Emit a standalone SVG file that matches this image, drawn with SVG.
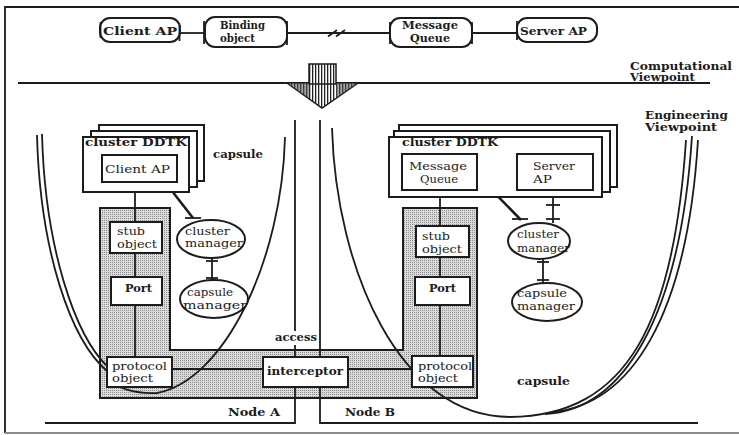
<svg xmlns="http://www.w3.org/2000/svg" width="739" height="435" viewBox="0 0 739 435">
  <defs>
    <!-- fine stipple for the shared protocol area -->
    <pattern id="stipple" width="2" height="2" patternUnits="userSpaceOnUse">
      <rect width="2" height="2" fill="#dadada"/>
      <rect width="1" height="1" fill="#8e8e8e"/>
    </pattern>
    <!-- vertical hatching for the refinement arrow -->
    <pattern id="stripes" width="3" height="3" patternUnits="userSpaceOnUse">
      <rect width="3" height="3" fill="#fff"/>
      <rect width="1.3" height="3" fill="#222"/>
    </pattern>
    <style>
      .ln { fill: none; stroke: #1c1c1c; stroke-width: 1.8; }
      .thick { fill: none; stroke: #1c1c1c; stroke-width: 2.6; }
      .box { fill: #fff; stroke: #1c1c1c; stroke-width: 2; }
      .rbox { fill: #fff; stroke: #1c1c1c; stroke-width: 2; }
      .ell { fill: #fff; stroke: #1c1c1c; stroke-width: 2; }
      .t { font-family: "DejaVu Serif", "Liberation Serif", serif; font-size: 11.5px; fill: #1c1c1c; }
      .s { font-size: 10.3px; }
      .b { font-weight: bold; }
    </style>
  </defs>

  <rect width="739" height="435" fill="#fff"/>

  <!-- outer frame -->
  <path d="M739,7 H5 V433" class="ln" stroke-width="2"/>
  <line x1="5" y1="433" x2="739" y2="433" stroke="#8a8a8a" stroke-width="2"/>

  <!-- viewpoint separator -->
  <line x1="18" y1="83" x2="710" y2="83" class="ln" stroke-width="2.4"/>
  <text class="t s b" x="630" y="69.5" textLength="102" lengthAdjust="spacingAndGlyphs">Computational</text>
  <text class="t s b" x="630" y="81" textLength="65" lengthAdjust="spacingAndGlyphs">Viewpoint</text>
  <text class="t s b" x="645" y="119" textLength="83" lengthAdjust="spacingAndGlyphs">Engineering</text>
  <text class="t s b" x="645" y="131" textLength="72" lengthAdjust="spacingAndGlyphs">Viewpoint</text>

  <!-- refinement arrow -->
  <g id="refine-arrow">
    <polygon points="287,83 358,83 322,108" fill="url(#stripes)" stroke="#1c1c1c" stroke-width="1.5"/>
    <polygon points="288,83.5 309,83.5 309,98" fill="#555" opacity="0.55"/>
    <polygon points="336,83.5 357,83.5 336,98" fill="#555" opacity="0.55"/>
    <rect x="309" y="64" width="27" height="20" fill="url(#stripes)" stroke="#1c1c1c" stroke-width="1.5"/>
  </g>

  <!-- computational viewpoint connectors -->
  <g id="comp-connectors">
    <line x1="180" y1="33" x2="204" y2="33" class="ln"/>
    <line x1="287" y1="33" x2="390" y2="33" class="ln"/>
    <line x1="472" y1="33" x2="517" y2="33" class="ln"/>
    <line x1="328" y1="36.5" x2="337" y2="30" class="ln" stroke-width="1.6"/>
    <line x1="336" y1="36.5" x2="345" y2="30" class="ln" stroke-width="1.6"/>
  </g>

  <g id="comp-client-ap">
    <rect class="rbox" x="100" y="18" width="80" height="24" rx="10"/>
    <line x1="100.5" y1="22" x2="100.5" y2="38" class="ln" stroke-width="2"/>
    <line x1="179.5" y1="25" x2="179.5" y2="41" class="ln" stroke-width="1.5"/>
    <text class="t b" x="103" y="35" font-size="12.5" textLength="74" lengthAdjust="spacingAndGlyphs">Client AP</text>
  </g>
  <g id="comp-binding-object">
    <rect class="rbox" x="205" y="17" width="82" height="30" rx="10"/>
    <line x1="204" y1="21" x2="204" y2="44" class="ln" stroke-width="2"/>
    <line x1="287" y1="21" x2="287" y2="45" class="ln" stroke-width="2"/>
    <text class="t b" x="220" y="29" font-size="10" textLength="45" lengthAdjust="spacingAndGlyphs">Binding</text>
    <text class="t b" x="220" y="42" font-size="10" textLength="35" lengthAdjust="spacingAndGlyphs">object</text>
  </g>
  <g id="comp-message-queue">
    <rect class="rbox" x="390" y="18" width="82" height="29" rx="10"/>
    <line x1="390" y1="22" x2="390" y2="44" class="ln" stroke-width="2"/>
    <line x1="472" y1="22" x2="472" y2="44" class="ln" stroke-width="2"/>
    <text class="t b" x="402" y="28.5" font-size="9.6" textLength="56" lengthAdjust="spacingAndGlyphs">Message</text>
    <text class="t b" x="410" y="41.5" font-size="9.6" textLength="40" lengthAdjust="spacingAndGlyphs">Queue</text>
  </g>
  <g id="comp-server-ap">
    <rect class="rbox" x="517" y="18" width="80" height="24" rx="10"/>
    <line x1="517" y1="21" x2="517" y2="40" class="ln" stroke-width="2"/>
    <text class="t b" x="520" y="35" font-size="12.5" textLength="67" lengthAdjust="spacingAndGlyphs">Server AP</text>
  </g>

  <!-- shared stippled area: two node columns joined by the channel band -->
  <path id="channel-area" d="M100,208 H170 V350 H403 V208 H477 V398 H100 Z" fill="url(#stipple)" stroke="#1c1c1c" stroke-width="2"/>

  <!-- node boundaries -->
  <g id="node-boundaries">
    <path d="M295,120 V331 M295,345 V423 H45" class="ln" stroke-width="2"/>
    <path d="M320,120 V423 H698" class="ln" stroke-width="2"/>
    <text class="t b" x="228" y="416" textLength="52" lengthAdjust="spacingAndGlyphs">Node A</text>
    <text class="t b" x="345" y="416" textLength="50" lengthAdjust="spacingAndGlyphs">Node B</text>
    <text class="t b" x="275" y="341" textLength="42" lengthAdjust="spacingAndGlyphs">access</text>
  </g>

  <!-- capsule outlines -->
  <g id="capsule-a">
    <path d="M37,135 C40,250 70,340 108,372" class="ln" stroke-width="1.6"/>
    <path d="M42,134 C45,248 75,336 108,367" class="ln" stroke-width="1.6"/>
    <path d="M108,378 C115,388 135,394 157,393 C225,380 282,260 285,137" class="ln" stroke-width="1.6"/>
    <text class="t b" x="213" y="158" textLength="50" lengthAdjust="spacingAndGlyphs">capsule</text>
  </g>
  <g id="capsule-b">
    <path d="M332,128 C336,270 400,417 510,417 C628,416 674,322 686,140" class="ln" stroke-width="1.6"/>
    <path d="M545,414 C622,410 680,320 692,136" class="ln" stroke-width="1.6"/>
    <path d="M552,412 C630,405 687,318 698,140" class="ln" stroke-width="1.6"/>
    <text class="t b" x="517" y="385" textLength="53" lengthAdjust="spacingAndGlyphs">capsule</text>
  </g>

  <!-- engineering connectors -->
  <g id="eng-connectors">
    <line x1="135" y1="192" x2="135" y2="357" class="ln" stroke-width="2"/>
    <line x1="440" y1="190" x2="440" y2="356" class="ln" stroke-width="2"/>
    <line x1="172" y1="369" x2="412" y2="369" class="ln" stroke-width="1.8"/>
    <!-- Client AP to cluster manager -->
    <line x1="165" y1="182" x2="193" y2="218" class="thick"/>
    <line x1="185" y1="218" x2="201" y2="218" class="ln" stroke-width="2"/>
    <!-- cluster manager to capsule manager, node A -->
    <line x1="212" y1="258" x2="212" y2="281" class="ln" stroke-width="2"/>
    <line x1="206" y1="261" x2="218" y2="261" class="ln" stroke-width="2"/>
    <line x1="206" y1="278" x2="218" y2="278" class="ln" stroke-width="2"/>
    <!-- Message Queue to Server AP -->
    <line x1="477" y1="170" x2="517" y2="170" class="ln" stroke-width="1.8"/>
    <!-- Message Queue to cluster manager -->
    <line x1="477" y1="175" x2="521" y2="220" class="thick"/>
    <line x1="484" y1="173" x2="484" y2="181" class="ln" stroke-width="2"/>
    <line x1="512" y1="219" x2="528" y2="219" class="ln" stroke-width="2"/>
    <!-- Server AP to cluster manager -->
    <line x1="553" y1="197" x2="553" y2="223" class="ln" stroke-width="2"/>
    <line x1="546" y1="205" x2="560" y2="205" class="ln" stroke-width="2"/>
    <line x1="546" y1="219" x2="560" y2="219" class="ln" stroke-width="2"/>
    <!-- cluster manager to capsule manager, node B -->
    <line x1="543" y1="259" x2="543" y2="283" class="ln" stroke-width="2"/>
    <line x1="537" y1="262" x2="549" y2="262" class="ln" stroke-width="2"/>
    <line x1="537" y1="280" x2="549" y2="280" class="ln" stroke-width="2"/>
  </g>

  <!-- cluster stack, node A -->
  <g id="cluster-a">
    <rect class="box" x="99" y="125" width="105" height="56"/>
    <rect class="box" x="91" y="131" width="106" height="56"/>
    <rect class="box" x="83" y="137" width="106" height="55"/>
    <text class="t b" x="85" y="146" textLength="102" lengthAdjust="spacingAndGlyphs">cluster DDTK</text>
  </g>
  <g id="client-ap">
    <rect class="box" x="102" y="155" width="75" height="27"/>
    <text class="t" x="105" y="173" font-size="12" textLength="65" lengthAdjust="spacingAndGlyphs">Client AP</text>
  </g>

  <!-- cluster stack, node B -->
  <g id="cluster-b">
    <rect class="box" x="399" y="125" width="218" height="62"/>
    <rect class="box" x="394" y="131" width="216" height="61"/>
    <rect class="box" x="389" y="137" width="213" height="60"/>
    <text class="t b" x="402" y="146" textLength="96" lengthAdjust="spacingAndGlyphs">cluster DDTK</text>
  </g>
  <g id="message-queue">
    <rect class="box" x="402" y="154" width="75" height="36"/>
    <text class="t" x="409" y="170" textLength="58" lengthAdjust="spacingAndGlyphs">Message</text>
    <text class="t" x="420" y="183" textLength="38" lengthAdjust="spacingAndGlyphs">Queue</text>
  </g>
  <g id="server-ap">
    <rect class="box" x="517" y="154" width="76" height="36"/>
    <text class="t" x="533" y="170" textLength="42" lengthAdjust="spacingAndGlyphs">Server</text>
    <text class="t" x="533" y="183" textLength="19" lengthAdjust="spacingAndGlyphs">AP</text>
  </g>

  <!-- node A objects -->
  <g id="stub-a">
    <rect class="box" x="110" y="222" width="52" height="31"/>
    <text class="t" x="117" y="235" textLength="28" lengthAdjust="spacingAndGlyphs">stub</text>
    <text class="t" x="117" y="248" textLength="40" lengthAdjust="spacingAndGlyphs">object</text>
  </g>
  <g id="port-a">
    <rect class="box" x="111" y="277" width="51" height="28"/>
    <text class="t b" x="125" y="292" textLength="27" lengthAdjust="spacingAndGlyphs">Port</text>
  </g>
  <g id="protocol-a">
    <rect class="box" x="107" y="357" width="65" height="30"/>
    <text class="t s" x="112" y="369.5" textLength="55" lengthAdjust="spacingAndGlyphs">protocol</text>
    <text class="t s" x="112" y="382" textLength="41" lengthAdjust="spacingAndGlyphs">object</text>
  </g>
  <g id="cluster-manager-a">
    <ellipse class="ell" cx="211" cy="239" rx="34" ry="19"/>
    <text class="t s" x="185" y="234.5" textLength="45" lengthAdjust="spacingAndGlyphs">cluster</text>
    <text class="t s" x="185" y="247" textLength="58" lengthAdjust="spacingAndGlyphs">manager</text>
  </g>
  <g id="capsule-manager-a">
    <ellipse class="ell" cx="214" cy="299" rx="34" ry="19"/>
    <text class="t s" x="187" y="296" textLength="46" lengthAdjust="spacingAndGlyphs">capsule</text>
    <text class="t s" x="183" y="308.5" textLength="64" lengthAdjust="spacingAndGlyphs">manager</text>
  </g>

  <!-- interceptor between the nodes -->
  <g id="interceptor">
    <rect class="box" x="263" y="357" width="85" height="30"/>
    <text class="t b" x="267" y="375" font-size="12" textLength="76" lengthAdjust="spacingAndGlyphs">interceptor</text>
  </g>

  <!-- node B objects -->
  <g id="stub-b">
    <rect class="box" x="416" y="226" width="53" height="31"/>
    <text class="t" x="422" y="240" textLength="28" lengthAdjust="spacingAndGlyphs">stub</text>
    <text class="t" x="422" y="253" textLength="40" lengthAdjust="spacingAndGlyphs">object</text>
  </g>
  <g id="port-b">
    <rect class="box" x="415" y="277" width="55" height="28"/>
    <text class="t b" x="429" y="292" textLength="27" lengthAdjust="spacingAndGlyphs">Port</text>
  </g>
  <g id="protocol-b">
    <rect class="box" x="412" y="356" width="61" height="31"/>
    <text class="t s" x="418" y="369.5" textLength="54" lengthAdjust="spacingAndGlyphs">protocol</text>
    <text class="t s" x="418" y="382" textLength="40" lengthAdjust="spacingAndGlyphs">object</text>
  </g>
  <g id="cluster-manager-b">
    <ellipse class="ell" cx="539" cy="241" rx="31" ry="18"/>
    <text class="t" x="517" y="238" textLength="42" lengthAdjust="spacingAndGlyphs">cluster</text>
    <text class="t" x="517" y="252" textLength="53" lengthAdjust="spacingAndGlyphs">manager</text>
  </g>
  <g id="capsule-manager-b">
    <ellipse class="ell" cx="547" cy="302" rx="35" ry="19"/>
    <text class="t s" x="517" y="297" textLength="50" lengthAdjust="spacingAndGlyphs">capsule</text>
    <text class="t s" x="517" y="309.5" textLength="58" lengthAdjust="spacingAndGlyphs">manager</text>
  </g>
</svg>
